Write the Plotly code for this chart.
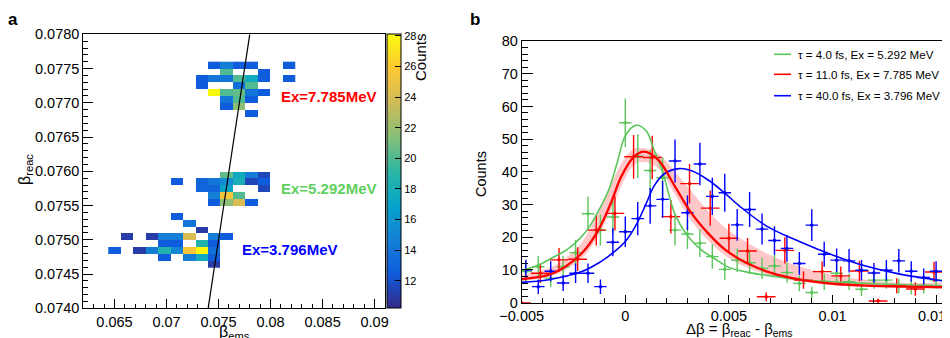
import numpy as np
import plotly.graph_objects as go

FONT = "Liberation Sans, Arial, Helvetica, sans-serif"
W, H = 950, 338
OFF = 8  # page body margin offset

# ---------------- panel a : 2D histogram cells ----------------
cell_ems = [
    0.0746, 0.0758, 0.0770, 0.0782, 0.0818,
    0.0758, 0.0794,
    0.0734, 0.0746, 0.0758, 0.0770, 0.0782, 0.0794, 0.0818,
    0.0734, 0.0770, 0.0782,
    0.0746, 0.0758, 0.0770, 0.0782, 0.0794,
    0.0758, 0.0770, 0.0782,
    0.0758, 0.0770,
    0.0782,
    0.0758, 0.0770, 0.0782, 0.0794,
    0.0710, 0.0734, 0.0746, 0.0758, 0.0770, 0.0782, 0.0794,
    0.0734, 0.0746, 0.0758, 0.0794,
    0.0746, 0.0758, 0.0770,
    0.0746, 0.0758, 0.0770, 0.0782,
    0.0710,
    0.0722,
    0.0734,
    0.0662, 0.0686, 0.0698, 0.0710, 0.0722, 0.0746, 0.0758,
    0.0698, 0.0710, 0.0734, 0.0746,
    0.0650, 0.0674, 0.0686, 0.0698, 0.0710, 0.0722, 0.0734, 0.0746,
    0.0698, 0.0722, 0.0734, 0.0746,
    0.0746,
]
cell_reac = [
    0.07755, 0.07755, 0.07755, 0.07755, 0.07755,
    0.07745, 0.07745,
    0.07735, 0.07735, 0.07735, 0.07735, 0.07735, 0.07735, 0.07735,
    0.07725, 0.07725, 0.07725,
    0.07715, 0.07715, 0.07715, 0.07715, 0.07715,
    0.07705, 0.07705, 0.07705,
    0.07695, 0.07695,
    0.07685,
    0.07595, 0.07595, 0.07595, 0.07595,
    0.07585, 0.07585, 0.07585, 0.07585, 0.07585, 0.07585, 0.07585,
    0.07575, 0.07575, 0.07575, 0.07575,
    0.07565, 0.07565, 0.07565,
    0.07555, 0.07555, 0.07555, 0.07555,
    0.07535,
    0.07525,
    0.07515,
    0.07505, 0.07505, 0.07505, 0.07505, 0.07505, 0.07505, 0.07505,
    0.07495, 0.07495, 0.07495, 0.07495,
    0.07485, 0.07485, 0.07485, 0.07485, 0.07485, 0.07485, 0.07485, 0.07485,
    0.07475, 0.07475, 0.07475, 0.07475,
    0.07465,
]
cell_counts = [
    12.5, 14.5, 12.5, 12.5, 12.5,
    20, 12.5,
    12.5, 14, 14, 20, 17.5, 12.5, 12.5,
    12.5, 13.5, 20,
    28, 20, 20.5, 14, 12.5,
    14, 20, 12.5,
    12.5, 21.5,
    12.5,
    20.5, 17.5, 14.5, 11.5,
    12.5, 13, 14, 15.5, 18, 11.5, 12.5,
    13, 13, 17, 11.5,
    14.5, 25.5, 20,
    12.5, 21.5, 24, 12.5,
    12.5,
    14,
    11,
    11, 11, 14.5, 14.5, 24, 14.5, 12.5,
    12.5, 12.5, 18.5, 12.5,
    12.5, 11, 14.5, 18.5, 15, 25.5, 28, 13.5,
    12.5, 14.5, 17.5, 12.5,
    11,
]
diag_line = [0.0740, 0.0780]
cbar_ticks = [12, 14, 16, 18, 20, 22, 24, 26, 28]

# ---------------- panel b : delta-beta spectra ----------------
bg_x = [-0.0048, -0.0042, -0.0036, -0.0030, -0.0024, -0.0018, -0.0012, -0.0006,
        0.0000, 0.0006, 0.0012, 0.0018, 0.0024, 0.0030, 0.0036, 0.0042, 0.0048,
        0.0054, 0.0060, 0.0066, 0.0072, 0.0078, 0.0084, 0.0090, 0.0096, 0.0102,
        0.0108, 0.0114, 0.0120, 0.0126, 0.0132, 0.0138, 0.0144, 0.0150, 0.0156]
blue_y = [10, 4.9, 9.6, 6, 9, 9, 4.9, 18.5, 21.7, 25.7, 29.6, 31.6, 43.3, 27.5,
          42.4, 32.5, 33.6, 23.8, 28.5, 22.5, 19, 16.6, 12, 23.7, 14.8, 13,
          12.8, 9.9, 9.1, 9.9, 12.8, 9.6, 7.7, 9.6, 4.9]
green_y = [9.5, 11, 7.5, 11, 15.3, 27.2, 22.2, 26.2, 55, 44.8, 40.4, 38.2, 22.2,
           21, 18.2, 14.1, 10.2, 13, 12.2, 10.5, 11.2, 9.2, 5.9, 3.1, 6.4, 9,
           6.4, 4.1, 6.9, 6.9, 5.1, 4.7, 5.1, 6.9, 1.8]
red_x = [-0.0050, -0.0041, -0.0032, -0.0023, -0.0014, -0.0005, 0.0004, 0.0013,
         0.0022, 0.0031, 0.0041, 0.0050, 0.0059, 0.0068, 0.0077, 0.0086, 0.0095,
         0.0104, 0.0113, 0.0122, 0.0131, 0.0140, 0.0149]
red_y = [0, 9, 13.1, 13.3, 22.2, 27.3, 44.6, 44.4, 26.3, 36.4, 28.9, 19.7, 15.8,
         1.8, 16, 6.9, 9.5, 8.2, 9.7, 0.5, 5.2, 4.2, 9.4]

green_fit_x = [-0.005, -0.0042, -0.0035, -0.0028, -0.0022, -0.0017, -0.0013, -0.0008,
               -0.0004, 0.0, 0.0005, 0.001, 0.0014, 0.0018, 0.0024, 0.003, 0.0037,
               0.0043, 0.005, 0.006, 0.007, 0.0085, 0.01, 0.012, 0.014, 0.0161]
green_fit_y = [9.8, 11.5, 13.8, 16.3, 19.6, 23.5, 28, 34.5, 42.6, 51, 54.2, 52.6,
               46.5, 40, 27, 20.5, 16, 13.5, 10.8, 9.2, 8.2, 7.0, 6.4, 5.8, 5.4, 5.0]
red_fit_x = [-0.005, -0.0037, -0.0029, -0.0021, -0.0013, -0.0007, -0.0002, 0.0004,
             0.0009, 0.0016, 0.0024, 0.0032, 0.004, 0.0048, 0.0056, 0.0064, 0.0072,
             0.008, 0.009, 0.01, 0.0116, 0.0135, 0.0161]
red_fit_y = [7.2, 8.5, 11, 15.1, 22.2, 30.4, 38.5, 44.5, 46.2, 43.6, 35.5, 27.3,
             21.2, 16.3, 13, 10.6, 8.8, 7.6, 6.5, 5.8, 5.2, 4.9, 4.7]
red_band_lo = [6.5, 8, 10, 13.5, 20.5, 28, 35.5, 42, 43, 41, 33, 25, 19, 14.5,
               11.5, 9.5, 8, 7, 6, 5.4, 5, 4.7, 4.5]
red_band_hi = [8.5, 10.5, 13.5, 18.5, 27.5, 36, 42.5, 47, 47.2, 45.5, 40, 34, 28,
               23, 19.5, 16.5, 14, 12, 10, 8.5, 7, 6, 5.5]
blue_fit_x = [-0.005, -0.0037, -0.0021, -0.0012, -0.0006, 0.0, 0.0005, 0.001,
              0.0014, 0.0019, 0.0026, 0.0032, 0.004, 0.0048, 0.0055, 0.0068,
              0.0084, 0.01, 0.0116, 0.0132, 0.0161]
blue_fit_y = [6.2, 7.0, 9.5, 12.5, 15.2, 18.7, 23.5, 30.2, 35.8, 39.5, 41, 40.3,
              37.5, 33.5, 29.6, 23.5, 18.7, 14.6, 11.2, 8.8, 6.0]

legend_labels = ["τ = 4.0 fs, Ex = 5.292 MeV",
                 "τ = 11.0 fs, Ex = 7.785 MeV",
                 "τ = 40.0 fs, Ex = 3.796 MeV"]

GREEN = "#5cc65c"
RED = "#ff0000"
BLUE = "#0000ff"


def fx(p):
    return (p - OFF) / W


def fy(p):
    return 1 - (p - OFF) / H


# ---------- build histogram grid ----------
ems_grid = np.round(np.arange(0.0650, 0.08181, 0.0012), 5)
reac_grid = np.round(np.arange(0.07465, 0.077551, 0.0001), 5)
z = [[None] * len(ems_grid) for _ in reac_grid]
for e, r, c in zip(cell_ems, cell_reac, cell_counts):
    i = int(round((r - reac_grid[0]) / 0.0001))
    j = int(round((e - ems_grid[0]) / 0.0012))
    z[i][j] = c

bird = [
    [0.000, "rgb(53,42,135)"], [0.125, "rgb(15,92,221)"], [0.250, "rgb(20,129,214)"],
    [0.375, "rgb(6,164,202)"], [0.500, "rgb(46,183,164)"], [0.625, "rgb(135,191,119)"],
    [0.750, "rgb(209,187,89)"], [0.875, "rgb(254,200,50)"], [1.000, "rgb(249,251,14)"],
]

fig = go.Figure()

fig.add_trace(go.Heatmap(
    x=ems_grid, y=reac_grid, z=z, colorscale=bird, zmin=10.2, zmax=28.1,
    xaxis="x", yaxis="y", hoverongaps=False,
    colorbar=dict(
        x=fx(386.5), xanchor="left", xpad=0, ypad=0,
        y=fy((34.3 + 308.3) / 2), yanchor="middle",
        lenmode="pixels", len=274, thickness=14,
        tickvals=cbar_ticks, ticks="inside", ticklen=6, tickcolor="black",
        tickfont=dict(family=FONT, size=11, color="black"),
        outlinewidth=1, outlinecolor="black",
    ),
))
fig.add_trace(go.Scatter(x=diag_line, y=diag_line, mode="lines",
                         line=dict(color="black", width=1.2),
                         xaxis="x", yaxis="y", showlegend=False))

# ---------- panel b traces ----------
band_x = red_fit_x + red_fit_x[::-1]
band_y = red_band_hi + red_band_lo[::-1]
fig.add_trace(go.Scatter(x=band_x, y=band_y, fill="toself", mode="lines",
                         fillcolor="rgba(255,0,0,0.22)", line=dict(width=0, shape="spline"),
                         xaxis="x2", yaxis="y2", showlegend=False))


def data_trace(xs, ys, half, color):
    return go.Scatter(
        x=xs, y=ys, mode="markers",
        marker=dict(color=color, size=3.5),
        error_x=dict(type="constant", value=half, color=color, thickness=1.4, width=0),
        error_y=dict(type="data", array=[float(np.sqrt(v)) for v in ys],
                     color=color, thickness=1.4, width=0),
        xaxis="x2", yaxis="y2", showlegend=False)


fig.add_trace(data_trace(bg_x, green_y, 0.0003, GREEN))
fig.add_trace(data_trace(red_x, red_y, 0.00045, RED))
fig.add_trace(data_trace(bg_x, blue_y, 0.0003, BLUE))

fig.add_trace(go.Scatter(x=green_fit_x, y=green_fit_y, mode="lines",
                         line=dict(color=GREEN, width=1.6, shape="spline"),
                         xaxis="x2", yaxis="y2", showlegend=False))
fig.add_trace(go.Scatter(x=blue_fit_x, y=blue_fit_y, mode="lines",
                         line=dict(color=BLUE, width=1.6, shape="spline"),
                         xaxis="x2", yaxis="y2", showlegend=False))
fig.add_trace(go.Scatter(x=red_fit_x, y=red_fit_y, mode="lines",
                         line=dict(color=RED, width=2.3, shape="spline"),
                         xaxis="x2", yaxis="y2", showlegend=False))

tickfont = dict(family=FONT, size=14.5, color="black")
common = dict(showgrid=False, zeroline=False, showline=True, linecolor="black",
              linewidth=1, ticks="inside", tickcolor="black", tickfont=tickfont,
              automargin=False)

# right edge of panel b lies at page pixel W + OFF (beyond the window)
xb_right = 0.005 * ((W + OFF) - 625.3) / 103.6

fig.update_layout(
    width=W, height=H, margin=dict(l=0, r=0, t=0, b=0, autoexpand=False),
    paper_bgcolor="white", plot_bgcolor="white", showlegend=False,
    font=dict(family=FONT, color="black"),
    xaxis=dict(domain=[fx(83.3), fx(385)], range=[0.062, 0.091], anchor="y",
               tickmode="linear", tick0=0.065, dtick=0.005, ticklen=9, mirror=True,
               minor=dict(dtick=0.001, tick0=0.062, ticks="inside", ticklen=4.5,
                          tickcolor="black", showgrid=False),
               **common),
    yaxis=dict(domain=[fy(308.3), fy(34.3)], range=[0.074, 0.078], anchor="x",
               tickmode="linear", tick0=0.074, dtick=0.0005, tickformat=".4f",
               ticklen=10, mirror=True,
               minor=dict(dtick=0.0001, ticks="inside", ticklen=5,
                          tickcolor="black", showgrid=False),
               **common),
    xaxis2=dict(domain=[fx(521.7), 1.0], range=[-0.005, xb_right], anchor="y2",
                tickmode="linear", tick0=0, dtick=0.005, ticklen=8, mirror=True,
                minor=dict(dtick=0.001, ticks="inside", ticklen=4.5,
                           tickcolor="black", showgrid=False),
                **common),
    yaxis2=dict(domain=[fy(302.7), fy(41)], range=[0, 80], anchor="x2",
                tickmode="linear", tick0=0, dtick=10, ticklen=11,
                minor=dict(dtick=2, ticks="inside", ticklen=6,
                           tickcolor="black", showgrid=False),
                **common),
)


def ann(text, x, y, size, color="black", angle=0, bold=False, xanchor="center"):
    if bold:
        text = "<b>" + text + "</b>"
    fig.add_annotation(text=text, x=fx(x), y=fy(y), xref="paper", yref="paper",
                       showarrow=False, textangle=angle, xanchor=xanchor,
                       yanchor="middle",
                       font=dict(family=FONT, size=size, color=color))


ann("a", 13, 20, 17, bold=True)
ann("b", 475, 20, 17, bold=True)
ann("β<sub>reac</sub>", 25, 170, 16, angle=-90)
ann("β<sub>ems</sub>", 234, 332, 16)
ann("Counts", 421, 57, 15, angle=-90)
ann("Counts", 481, 174, 14.5, angle=-90)
ann("Δβ = β<sub>reac</sub> - β<sub>ems</sub>", 739, 329, 15)

# Ex labels (data coordinates in panel a)
for txt, xe, yr, col in [("Ex=7.785MeV", 0.0808, 0.077099, RED),
                         ("Ex=5.292MeV", 0.0808, 0.075756, "#5fd05f"),
                         ("Ex=3.796MeV", 0.07702, 0.074858, BLUE)]:
    fig.add_annotation(text="<b>" + txt + "</b>", x=xe, y=yr, xref="x", yref="y",
                       showarrow=False, xanchor="left", yanchor="middle",
                       font=dict(family=FONT, size=15, color=col))

# legend (drawn manually)
for lab, col, yy in zip(legend_labels, [GREEN, RED, BLUE], [54.3, 74.3, 95.7]):
    fig.add_shape(type="line", xref="paper", yref="paper", x0=fx(774), x1=fx(791),
                  y0=fy(yy), y1=fy(yy), line=dict(color=col, width=1.6))
    ann(lab, 796, yy, 11.6, xanchor="left")

fig.write_html("out.html")
